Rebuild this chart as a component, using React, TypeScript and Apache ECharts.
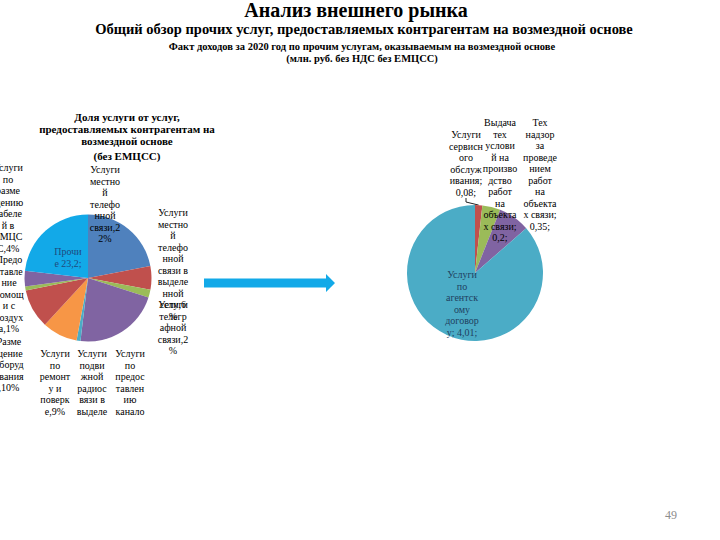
import React, { useEffect, useRef } from "react";
import * as echarts from "echarts";

// ---- Data ----
const leftNames = [
  "Услуги местной телефонной связи",
  "Услуги местной телефонной связи в выделенной сети",
  "Услуги телеграфной связи",
  "Услуги подвижной радиосвязи в выделенной сети",
  "Услуги по предоставлению каналов связи",
  "Услуги по ремонту и поверке",
  "Размещение оборудования",
  "Предоставление помощи с воздуха",
  "Услуги по размещению кабелей в ЕМЦСС",
  "Прочие",
];
const leftValues = [22, 6, 2, 22, 1, 9, 10, 1, 4, 23.2];

const rightNames = [
  "Услуги сервисного обслуживания",
  "Выдача тех условий на производство работ на объектах связи",
  "Тех надзор за проведением работ на объектах связи",
  "Услуги по агентскому договору",
];
const rightValues = [0.08, 0.2, 0.35, 4.01];

// ---- Styles / layout (kept apart from data) ----
const FONT = "Liberation Serif";
const LABEL_SIZE = 10;
const leftColors = ["#4F81BD", "#C0504D", "#9BBB59", "#8064A2", "#4BACC6", "#F79646", "#C0504D", "#9BBB59", "#8064A2", "#12A9E8"];
const rightColors = ["#C0504D", "#9BBB59", "#8064A2", "#4BACC6"];

type LP = { x: number; y: number; w: number; h?: number; c?: string };
const leftLabelPos: LP[] = [
  { x: 105, y: 164, w: 31 },
  { x: 173, y: 207, w: 31 },
  { x: 173, y: 299, w: 31 },
  { x: 92, y: 348, w: 31, h: 70 },
  { x: 130, y: 348, w: 31, h: 70 },
  { x: 55, y: 348, w: 31, h: 70 },
  { x: 9, y: 336, w: 31 },
  { x: 9, y: 254, w: 31 },
  { x: 8, y: 162, w: 31 },
  { x: 68, y: 246, w: 29, c: "#1F497D" },
];
const rightLabelPos: LP[] = [
  { x: 466, y: 129, w: 34.5 },
  { x: 500, y: 117, w: 34.5 },
  { x: 540, y: 117, w: 34.5 },
  { x: 462, y: 269, w: 34.5, c: "#1F3F5F" },
];

const fmt = (v: number) => String(v).replace(".", ",");

// Excel-like word wrapping, measured with the real font
let mctx: CanvasRenderingContext2D | null = null;
function measure(s: string): number {
  if (!mctx) {
    const c = document.createElement("canvas");
    mctx = c.getContext("2d");
  }
  if (mctx) {
    mctx.font = `${LABEL_SIZE}px ${FONT}`;
    return mctx.measureText(s).width;
  }
  return s.length * LABEL_SIZE * 0.5;
}
function wrap(text: string, width: number): string {
  const words = text.split(" ");
  const lines: string[] = [];
  let cur = "";
  for (const w of words) {
    const cand = cur ? cur + " " + w : w;
    if (measure(cand) <= width) { cur = cand; continue; }
    if (cur) { lines.push(cur); cur = ""; }
    if (measure(w) <= width) { cur = w; continue; }
    let part = "";
    for (const ch of w) {
      if (!part || measure(part + ch) <= width) part += ch;
      else { lines.push(part); part = ch; }
    }
    cur = part;
  }
  if (cur) lines.push(cur);
  return lines.join("\n");
}

export default function App() {
  const ref = useRef<HTMLDivElement>(null);
  useEffect(() => {
    if (!ref.current) return;
    const chart = echarts.init(ref.current, undefined, { renderer: "svg" });
    const labelBase = {
      show: true,
      fontFamily: FONT,
      fontSize: LABEL_SIZE,
      lineHeight: 11.5,
      color: "#000",
      lineOverflow: "truncate",
      align: "center",
    };
    const ts = (size: number, weight: string, color = "#000", extra: any = {}) => ({
      fontFamily: FONT, fontSize: size, fontWeight: weight, color, ...extra,
    });
    chart.setOption({
      animation: false,
      backgroundColor: "#fff",
      textStyle: { fontFamily: FONT },
      title: [
        { text: "Анализ внешнего рынка", left: 356, top: 0, textAlign: "center", padding: 0, textStyle: ts(20, "bold") },
        { text: "Общий обзор прочих услуг, предоставляемых контрагентам на возмездной основе", left: 364, top: 21, textAlign: "center", padding: 0, textStyle: ts(14.5, "bold") },
        { text: "Факт доходов за 2020 год по прочим услугам, оказываемым на возмездной основе", left: 362, top: 41, textAlign: "center", padding: 0, textStyle: ts(10.5, "bold") },
        { text: "(млн. руб. без НДС без ЕМЦСС)", left: 362, top: 53, textAlign: "center", padding: 0, textStyle: ts(10.5, "bold") },
        { text: "Доля услуги от услуг,\nпредоставляемых контрагентам на\nвозмездной основе", left: 127, top: 111, textAlign: "center", padding: 0, textStyle: ts(11, "bold", "#000", { lineHeight: 12 }) },
        { text: "(без ЕМЦСС)", left: 127, top: 150, textAlign: "center", padding: 0, textStyle: ts(11, "bold") },
        { text: "49", left: 671, top: 509, textAlign: "center", padding: 0, textStyle: ts(12, "normal", "#8c8c8c") },
      ],
      graphic: [
        {
          type: "polygon",
          shape: { points: [[204, 278.5], [326, 278.5], [326, 274], [335, 283], [326, 292], [326, 287.5], [204, 287.5]] },
          style: { fill: "#12A9E8" },
        },
      ],
      series: [
        {
          type: "pie",
          center: [88, 278],
          radius: 63.5,
          startAngle: 90,
          clockwise: true,
          avoidLabelOverlap: false,
          emphasis: { disabled: true },
          label: {
            ...labelBase,
            formatter: (p: any) => {
              const L = leftLabelPos[p.dataIndex];
              const t = p.dataIndex === leftNames.length - 1 ? `${p.name} ${fmt(p.value)};` : `${p.name},${fmt(p.value)}%`;
              return wrap(t, L.w);
            },
          },
          labelLine: { show: false },
          labelLayout: (p: any) => {
            const L = leftLabelPos[p.dataIndex];
            return { x: L.x, y: L.y, height: L.h, align: "center", verticalAlign: "top" };
          },
          data: leftNames.map((n, i) => ({
            name: n,
            value: leftValues[i],
            itemStyle: { color: leftColors[i] },
            label: { height: leftLabelPos[i].h, color: leftLabelPos[i].c || "#000" },
          })),
        },
        {
          type: "pie",
          center: [475, 273],
          radius: 68,
          startAngle: 90,
          clockwise: true,
          avoidLabelOverlap: false,
          emphasis: { disabled: true },
          label: {
            ...labelBase,
            formatter: (p: any) => wrap(`${p.name}; ${fmt(p.value)};`, rightLabelPos[p.dataIndex].w),
          },
          labelLine: { show: false },
          labelLayout: (p: any) => {
            const L = rightLabelPos[p.dataIndex];
            return { x: L.x, y: L.y, align: "center", verticalAlign: "top" };
          },
          data: rightNames.map((n, i) => ({
            name: n,
            value: rightValues[i],
            itemStyle: { color: rightColors[i] },
            label: { color: rightLabelPos[i].c || "#000" },
            labelLine: i === 0 ? { show: true, length: 4, length2: 4, lineStyle: { color: "#222", width: 1 } } : { show: false },
          })),
        },
      ],
    });
    return () => chart.dispose();
  }, []);
  return <div ref={ref} style={{ position: "fixed", left: 0, top: 0, width: 720, height: 540 }} />;
}
